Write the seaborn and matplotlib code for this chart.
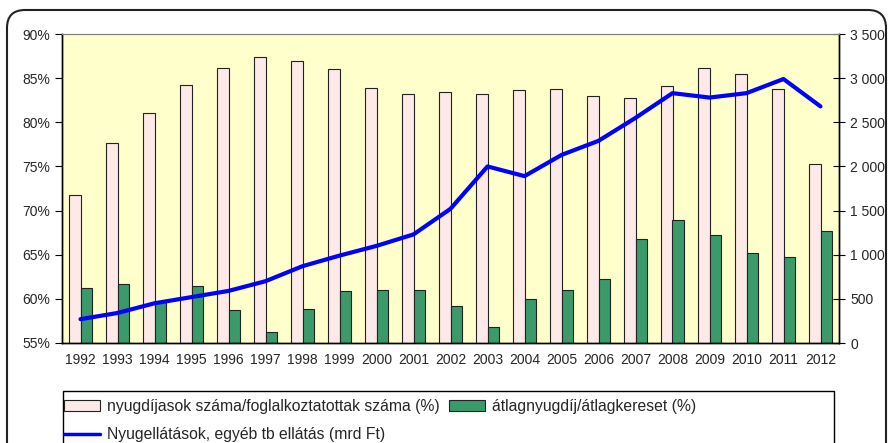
import matplotlib
matplotlib.use("Agg")
import matplotlib.pyplot as plt
from matplotlib.patches import FancyBboxPatch, Rectangle
from matplotlib.ticker import FuncFormatter
import seaborn as sns
import numpy as np
import pandas as pd

years = [str(y) for y in range(1992, 2013)]
# nyugdíjasok száma / foglalkoztatottak száma (%)
pensioner_ratio = [71.8, 77.7, 81.1, 84.2, 86.2, 87.4, 86.9, 86.0, 83.9, 83.2, 83.4,
                   83.2, 83.7, 83.8, 83.0, 82.8, 84.1, 86.2, 85.5, 83.8, 75.3]
# átlagnyugdíj / átlagkereset (%)
replacement_ratio = [61.2, 61.7, 59.6, 61.4, 58.7, 56.2, 58.9, 60.9, 61.0, 61.0, 59.2,
                     56.8, 60.0, 61.0, 62.3, 66.8, 68.9, 67.2, 65.2, 64.7, 67.7]
# Nyugellátások, egyéb tb ellátás (mrd Ft)
pension_spend = [270, 340, 450, 520, 590, 700, 870, 990, 1100, 1230, 1520,
                 2000, 1890, 2130, 2290, 2550, 2830, 2780, 2830, 2990, 2680]

lab1 = "nyugdíjasok száma/foglalkoztatottak száma (%)"
lab2 = "átlagnyugdíj/átlagkereset (%)"
lab3 = "Nyugellátások, egyéb tb ellátás (mrd Ft)"

df = pd.DataFrame({
    "year": years * 2,
    "value": pensioner_ratio + replacement_ratio,
    "series": [lab1] * len(years) + [lab2] * len(years),
})

sns.set_style("white")
plt.rcParams["font.family"] = ["Liberation Sans", "DejaVu Sans"]
plt.rcParams["font.size"] = 10

fig = plt.figure(figsize=(8.88, 4.43), dpi=100)
ax = fig.add_axes([62 / 888, 1 - 343 / 443, (839 - 62) / 888, (343 - 34) / 443])
ax.set_facecolor("#FFFFCC")

sns.barplot(data=df, x="year", y="value", hue="series", ax=ax, width=0.6,
            palette=["#FDE9E7", "#3A9A6A"], edgecolor="#222222", linewidth=0.8,
            saturation=1)
ax.set_ylim(55, 90)
ax.set_yticks(range(55, 91, 5))
ax.yaxis.set_major_formatter(FuncFormatter(lambda v, p: f"{int(v)}%"))
ax.set_xlabel("")
ax.set_ylabel("")
ax.set_xlim(-0.5, len(years) - 0.5)
ax.set_xticks(range(len(years)))
ax.set_xticklabels(years)
ax.set_xticks(np.arange(-0.5, len(years), 1), minor=True)
ax.tick_params(axis="x", which="major", length=0, pad=7, labelsize=10)
ax.tick_params(axis="x", which="minor", length=5, direction="out", color="black")
ax.tick_params(axis="y", length=5, direction="out", left=True, color="black", labelsize=10)

ax2 = ax.twinx()
sns.lineplot(x=np.arange(len(years)), y=pension_spend, ax=ax2, color="#0000FF",
             linewidth=3, label=lab3)
ax2.set_ylim(0, 3500)
ax2.set_yticks(range(0, 3501, 500))
ax2.yaxis.set_major_formatter(FuncFormatter(lambda v, p: f"{int(v):,}".replace(",", " ")))
ax2.tick_params(axis="y", length=9, direction="inout", right=True, color="black", labelsize=10)
ax2.set_xlim(-0.5, len(years) - 0.5)

for a in (ax, ax2):
    for s in ("left", "bottom", "right"):
        a.spines[s].set_color("black")
        a.spines[s].set_linewidth(1)
    a.spines["top"].set_color("#808080")

h1, l1 = ax.get_legend_handles_labels()
h2, l2 = ax2.get_legend_handles_labels()
ax.get_legend().remove()
ax2.get_legend().remove()

leg = fig.legend([h1[0], h2[0], h1[1]], [l1[0], l2[0], l1[1]], ncol=2,
                 loc="upper left", bbox_to_anchor=(64 / 888, 1 - 399 / 443),
                 frameon=False, fontsize=11.3, handlelength=2.3, handletextpad=0.45,
                 columnspacing=0.6, labelspacing=0.85, borderpad=0, borderaxespad=0)
leg.legend_handles[1].set_linewidth(2.5)

fig.patches.append(Rectangle((63 / 888, -0.05), (834 - 63) / 888, 0.05 + 1 - 391 / 443,
                             transform=fig.transFigure, fill=False, edgecolor="black",
                             linewidth=1))
fig.patches.append(FancyBboxPatch((0.07, -0.3), 8.79, 4.63,
                                  boxstyle="round,pad=0,rounding_size=0.18",
                                  transform=fig.dpi_scale_trans, fill=False,
                                  edgecolor="#222222", linewidth=1.5))

fig.savefig("out.png", dpi=100)
